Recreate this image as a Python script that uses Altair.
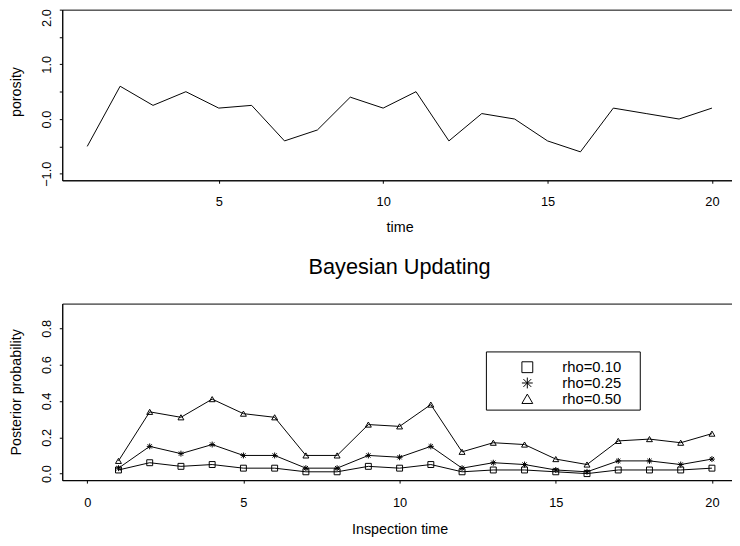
import altair as alt
import pandas as pd

# ---------------- data ----------------
time = list(range(1, 21))
porosity = [-0.5, 0.6, 0.25, 0.5, 0.2, 0.25, -0.4, -0.2, 0.4, 0.2,
            0.5, -0.4, 0.1, 0.0, -0.4, -0.6, 0.2, 0.1, 0.0, 0.2]

insp_time = list(range(1, 21))
rho10 = [0.02, 0.06, 0.04, 0.05, 0.03, 0.03, 0.01, 0.01, 0.04, 0.03,
         0.05, 0.01, 0.02, 0.02, 0.01, 0.00, 0.02, 0.02, 0.02, 0.03]
rho25 = [0.03, 0.15, 0.11, 0.16, 0.10, 0.10, 0.03, 0.03, 0.10, 0.09,
         0.15, 0.03, 0.06, 0.05, 0.02, 0.01, 0.07, 0.07, 0.05, 0.08]
rho50 = [0.07, 0.34, 0.31, 0.41, 0.33, 0.31, 0.10, 0.10, 0.27, 0.26,
         0.38, 0.12, 0.17, 0.16, 0.08, 0.05, 0.18, 0.19, 0.17, 0.22]
series_labels = ["rho=0.10", "rho=0.25", "rho=0.50"]

top_x_ticks = [5, 10, 15, 20]
top_y_ticks = [-1.0, -0.5, 0.0, 0.5, 1.0, 1.5, 2.0]
bot_x_ticks = [0, 5, 10, 15, 20]
bot_y_ticks = [0.0, 0.2, 0.4, 0.6, 0.8]

FONT = "Liberation Sans"
ASTERISK = "M-1,0L1,0M0,-1L0,1M-0.72,-0.72L0.72,0.72M-0.72,0.72L0.72,-0.72"

W = 684
H_TOP = 173
H_BOT = 179

common_axis = dict(
    domainColor="black", domainWidth=1, tickColor="black", tickWidth=1, tickSize=3,
    labelFont=FONT, labelFontSize=13, labelColor="black",
    titleFont=FONT, titleFontSize=14.5, titleFontWeight="normal", titleColor="black",
    grid=False,
)

def y_axis(values, title, fmt, title_y, label_expr=None, label_offset=0):
    kw = dict(values=values, title=title, format=fmt, labelAngle=270, labelAlign="center",
              labelBaseline="alphabetic", labelPadding=9, titleAngle=270,
              titleBaseline="alphabetic", titleAlign="center", titleX=-42, titleY=title_y,
              labelOffset=label_offset, **common_axis)
    if label_expr:
        kw["labelExpr"] = label_expr
    return alt.Axis(**kw)

def x_axis(values, title, label_pad, title_y):
    return alt.Axis(values=values, title=title, format="d", labelAngle=0, labelAlign="center",
                    labelBaseline="top", labelPadding=label_pad, titleBaseline="alphabetic",
                    titleAlign="center", titleX=W / 2, titleY=title_y,
                    **common_axis)

# ---------------- top panel ----------------
top_df = pd.DataFrame({"time": time, "porosity": porosity})
top = alt.Chart(top_df).mark_line(color="black", strokeWidth=1).encode(
    x=alt.X("time:Q", scale=alt.Scale(domain=[0.24, 20.76], nice=False, zero=False),
            axis=x_axis(top_x_ticks, "time", 12.5, 52)),
    y=alt.Y("porosity:Q", scale=alt.Scale(domain=[-1.12, 2.0], nice=False, zero=False),
            axis=y_axis(top_y_ticks, "porosity", ".1f", 83,
                        "datum.value % 1 == 0 ? format(datum.value, '.1f') : ''",
                        {"condition": {"test": "datum.value == 2", "value": 8}, "value": 0})),
).properties(width=W, height=H_TOP)

# ---------------- bottom panel ----------------
rows = []
for lab, vals in zip(series_labels, [rho10, rho25, rho50]):
    for t, v in zip(insp_time, vals):
        rows.append({"t": t, "p": v, "rho": lab})
bot_df = pd.DataFrame(rows)

xb = alt.X("t:Q", scale=alt.Scale(domain=[-0.8, 20.8], nice=False, zero=False),
           axis=x_axis(bot_x_ticks, "Inspection time", 14, 54))
yb = alt.Y("p:Q", scale=alt.Scale(domain=[-0.036, 0.936], nice=False, zero=False),
           axis=y_axis(bot_y_ticks, "Posterior probability", ".1f", H_BOT / 2))

base = alt.Chart(bot_df).encode(x=xb, y=yb)
lines = base.mark_line(color="black", strokeWidth=1).encode(detail="rho:N")
pts = base.mark_point(filled=False, color="black", strokeWidth=1, size=36, opacity=1).encode(
    shape=alt.Shape("rho:N",
                    scale=alt.Scale(domain=series_labels, range=["square", ASTERISK, "triangle-up"]),
                    legend=alt.Legend(title=None, orient="none", legendX=464, legendY=355,
                                      symbolSize=121, symbolStrokeWidth=1,
                                      symbolStrokeColor="black", symbolFillColor="transparent",
                                      labelFont=FONT, labelFontSize=15, labelColor="black",
                                      padding=0, rowPadding=-5, labelOffset=28,
                                      strokeColor="transparent")),
)
frame = alt.Chart(pd.DataFrame({"f": [0]})).mark_rect(
    fillOpacity=0, stroke="black", strokeWidth=1
).encode(x=alt.value(430), x2=alt.value(586), y=alt.value(49), y2=alt.value(108))

bottom = alt.layer(lines, pts, frame).properties(
    width=W, height=H_BOT,
    title=alt.Title("Bayesian Updating", font=FONT, fontSize=22, fontWeight="normal",
                    color="black", anchor="middle", baseline="alphabetic", offset=8),
)

chart = alt.vconcat(top, bottom, spacing=21).properties(
    padding={"left": 0, "top": -4, "right": -6, "bottom": 0},
    background="white",
).configure_view(stroke="black", strokeWidth=1)

chart.save("out.html", embed_options={"renderer": "svg", "actions": False})
